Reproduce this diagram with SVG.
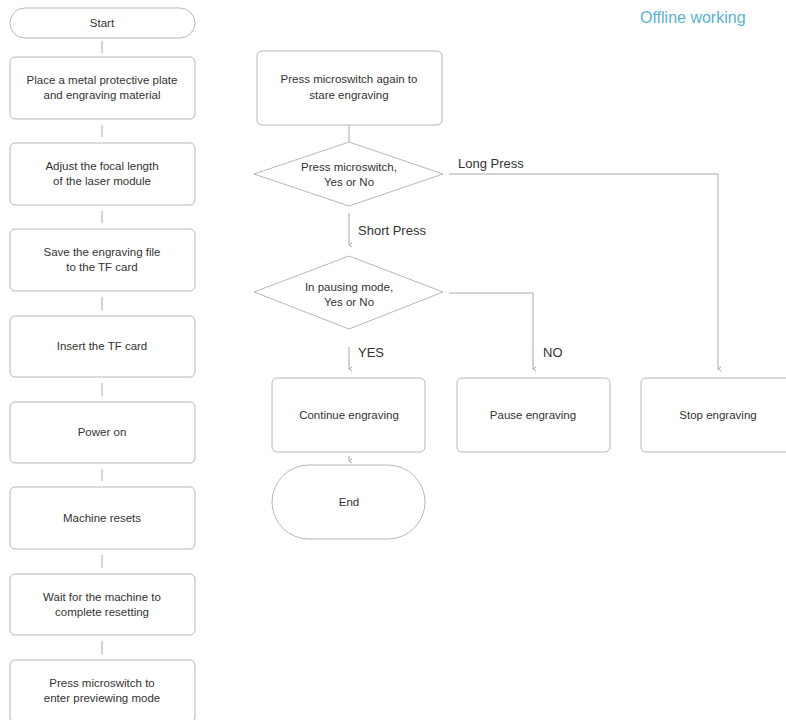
<svg xmlns="http://www.w3.org/2000/svg" width="786" height="720" viewBox="0 0 786 720">
<defs>
<style>
.box{fill:#fff;stroke:#b8b8b8;stroke-width:1}
.ln{fill:none;stroke:#a8a8a8;stroke-width:1}
.t{font-family:"Liberation Sans",Arial,sans-serif;font-size:11.5px;fill:#333;text-anchor:middle}
.lbl{font-family:"Liberation Sans",Arial,sans-serif;font-size:13px;fill:#333}
.title{font-family:"Liberation Sans",Arial,sans-serif;font-size:16px;fill:#5ab2cf}
</style>
<marker id="ah" viewBox="0 0 6 6" refX="3" refY="5" markerWidth="6" markerHeight="6" markerUnits="userSpaceOnUse" orient="auto-start-reverse">
<path d="M1,2 L3,5 L5,2" fill="none" stroke="#a8a8a8" stroke-width="1"/>
</marker>
</defs>
<rect width="786" height="720" fill="#fff"/>
<text class="title" x="640" y="23">Offline working</text>
<g id="connectors">
<line class="ln" x1="102" y1="41" x2="102" y2="53"/>
<line class="ln" x1="102" y1="125" x2="102" y2="137"/>
<line class="ln" x1="102" y1="211" x2="102" y2="223"/>
<line class="ln" x1="102" y1="297" x2="102" y2="310"/>
<line class="ln" x1="102" y1="383" x2="102" y2="396"/>
<line class="ln" x1="102" y1="469" x2="102" y2="481"/>
<line class="ln" x1="102" y1="555" x2="102" y2="568"/>
<line class="ln" x1="102" y1="641" x2="102" y2="654"/>
<line class="ln" x1="349" y1="125" x2="349" y2="142"/>
<line class="ln" x1="349" y1="213" x2="349" y2="245" marker-end="url(#ah)"/>
<polyline class="ln" points="449,174 718,174 718,369" marker-end="url(#ah)"/>
<polyline class="ln" points="449,293 533,293 533,369" marker-end="url(#ah)"/>
<line class="ln" x1="349" y1="347" x2="349" y2="369" marker-end="url(#ah)"/>
<line class="ln" x1="349" y1="456" x2="349" y2="461" marker-end="url(#ah)"/>
<text class="lbl" x="458" y="168">Long Press</text>
<text class="lbl" x="358" y="235">Short Press</text>
<text class="lbl" x="358" y="357">YES</text>
<text class="lbl" x="543" y="357">NO</text>
</g>
<g id="start"><rect class="box" x="10" y="8" width="185" height="30" rx="15"/><text class="t" x="102" y="27">Start</text></g>
<g id="n1"><rect class="box" x="10" y="57" width="185" height="62" rx="5"/><text class="t" x="102" y="84">Place a metal protective plate</text><text class="t" x="102" y="99">and engraving material</text></g>
<g id="n2"><rect class="box" x="10" y="143" width="185" height="62" rx="5"/><text class="t" x="102" y="170">Adjust the focal length</text><text class="t" x="102" y="185">of the laser module</text></g>
<g id="n3"><rect class="box" x="10" y="229" width="185" height="62" rx="5"/><text class="t" x="102" y="256">Save the engraving file</text><text class="t" x="102" y="271">to the TF card</text></g>
<g id="n4"><rect class="box" x="10" y="316" width="185" height="61" rx="5"/><text class="t" x="102" y="350">Insert the TF card</text></g>
<g id="n5"><rect class="box" x="10" y="402" width="185" height="61" rx="5"/><text class="t" x="102" y="436">Power on</text></g>
<g id="n6"><rect class="box" x="10" y="487" width="185" height="62" rx="5"/><text class="t" x="102" y="522">Machine resets</text></g>
<g id="n7"><rect class="box" x="10" y="574" width="185" height="61" rx="5"/><text class="t" x="102" y="601">Wait for the machine to</text><text class="t" x="102" y="616">complete resetting</text></g>
<g id="n8"><rect class="box" x="10" y="660" width="185" height="62" rx="5"/><text class="t" x="102" y="687">Press microswitch to</text><text class="t" x="102" y="702">enter previewing mode</text></g>
<g id="n9"><rect class="box" x="257" y="51" width="185" height="74" rx="5"/><text class="t" x="349" y="83">Press microswitch again to</text><text class="t" x="349" y="99">stare engraving</text></g>
<g id="d1"><polygon class="box" points="349,142 443,174 349,206 254,174"/><text class="t" x="349" y="171">Press microswitch,</text><text class="t" x="349" y="186">Yes or No</text></g>
<g id="d2"><polygon class="box" points="349,256 443,292 349,329 254,292"/><text class="t" x="349" y="291">In pausing mode,</text><text class="t" x="349" y="306">Yes or No</text></g>
<g id="cont"><rect class="box" x="272" y="378" width="153" height="74" rx="5"/><text class="t" x="349" y="419">Continue engraving</text></g>
<g id="end"><rect class="box" x="272" y="465" width="153" height="74" rx="37"/><text class="t" x="349" y="506">End</text></g>
<g id="pause"><rect class="box" x="457" y="378" width="153" height="74" rx="5"/><text class="t" x="533" y="419">Pause engraving</text></g>
<g id="stop"><rect class="box" x="641" y="378" width="154" height="74" rx="5"/><text class="t" x="718" y="419">Stop engraving</text></g>
</svg>
